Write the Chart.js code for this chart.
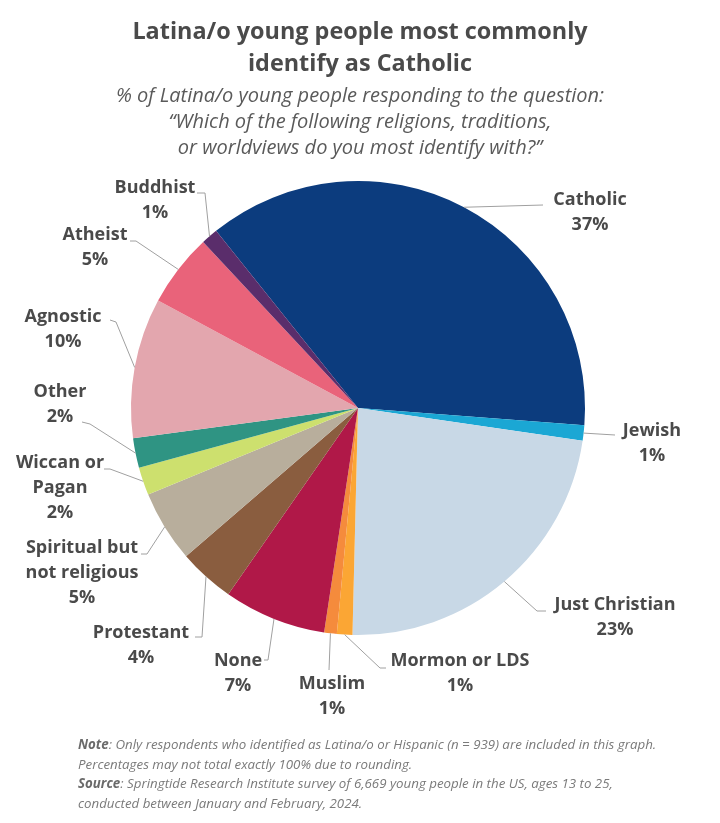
<!DOCTYPE html>
<html>
<head>
<meta charset="utf-8">
<script src="https://cdn.jsdelivr.net/npm/chart.js@4"></script>
<style>
  html, body { margin: 0; padding: 0; background: #fff; }
  #wrap { position: relative; width: 720px; height: 823px; overflow: hidden; font-family: "Open Sans", sans-serif; }
  #c { position: absolute; left: 0; top: 0; }
  .title { position: absolute; left: 0; width: 720px; top: 14px; text-align: center; font-weight: 700; font-size: 23.4px; line-height: 32px; color: #4a4a4a; }
  .sub { position: absolute; left: 0; width: 720px; top: 82px; text-align: center; font-style: italic; font-size: 20px; line-height: 26px; color: #5a5a5a; }
  .note { position: absolute; left: 78px; top: 735px; font-style: italic; font-size: 13.3px; line-height: 19.7px; color: #7a7a7a; }
  .note b { font-weight: 700; color: #6a6a6a; }
</style>
</head>
<body>
<div id="wrap">
  <canvas id="c" width="720" height="823"></canvas>
  <div class="title">Latina/o young people most commonly<br>identify as Catholic</div>
  <div class="sub">% of Latina/o young people responding to the question:<br>“Which of the following religions, traditions,<br>or worldviews do you most identify with?”</div>
  <div class="note"><b>Note</b>: Only respondents who identified as Latina/o or Hispanic (n = 939) are included in this graph.<br>Percentages may not total exactly 100% due to rounding.<br><b>Source</b>: Springtide Research Institute survey of 6,669 young people in the US, ages 13 to 25,<br>conducted between January and February, 2024.</div>
</div>
<script>
// ---- data ----
const categories = ["Catholic", "Jewish", "Just Christian", "Mormon or LDS", "Muslim", "None",
  "Protestant", "Spiritual but not religious", "Wiccan or Pagan", "Other", "Agnostic", "Atheist", "Buddhist"];
const labelLines = [["Catholic"], ["Jewish"], ["Just Christian"], ["Mormon or LDS"], ["Muslim"], ["None"],
  ["Protestant"], ["Spiritual but", "not religious"], ["Wiccan or", "Pagan"], ["Other"], ["Agnostic"], ["Atheist"], ["Buddhist"]];
const shares = [37.0, 1.1, 23.1, 1.1, 0.9, 7.3, 4.0, 5.1, 2.0, 2.1, 10.0, 5.2, 1.2];
const sliceColors = ["#0c3c7e", "#1ba7d4", "#c8d8e6", "#fba634", "#f58b3c", "#b01848",
  "#8a5d3f", "#b8ae9c", "#cde06e", "#2f9483", "#e3a6ae", "#e9637a", "#5a2d6b"];

// ---- label layout (text anchor: centre x, first-line centre y; leader elbows) ----
const labelPos = [
  {x: 590, y: 200, pts: [[543, 205]]},
  {x: 652, y: 431, pts: [[615, 435]]},
  {x: 615, y: 605, pts: [[537, 611], [546, 611]]},
  {x: 460, y: 661, pts: [[380, 668], [386, 668]]},
  {x: 332, y: 684, pts: [[329, 670]]},
  {x: 238, y: 661, pts: [[268, 660], [264, 660]]},
  {x: 141, y: 633, pts: [[202, 637], [195, 637]]},
  {x: 82,  y: 548, pts: [[147, 554], [141, 554]]},
  {x: 60,  y: 463, pts: [[110, 469], [104, 469]]},
  {x: 60,  y: 392, pts: [[90, 424], [82, 422]]},
  {x: 63,  y: 317, pts: [[116, 322], [110, 320]]},
  {x: 95,  y: 235, pts: [[136, 241], [130, 241]]},
  {x: 155, y: 188, pts: [[205, 193], [197, 193]]}
];

const labelPlugin = {
  id: 'pieLabels',
  afterDatasetsDraw(chart) {
    const ctx = chart.ctx;
    const meta = chart.getDatasetMeta(0);
    ctx.save();
    meta.data.forEach((arc, i) => {
      const p = arc.getProps(['x', 'y', 'startAngle', 'endAngle', 'outerRadius'], true);
      const mid = (p.startAngle + p.endAngle) / 2;
      const rx = p.x + Math.cos(mid) * p.outerRadius;
      const ry = p.y + Math.sin(mid) * p.outerRadius;
      const L = labelPos[i];
      ctx.beginPath();
      ctx.moveTo(rx, ry);
      L.pts.forEach(q => ctx.lineTo(q[0], q[1]));
      ctx.strokeStyle = '#a0a0a0';
      ctx.lineWidth = 1;
      ctx.stroke();
      const lines = labelLines[i].concat([Math.round(shares[i]) + '%']);
      ctx.fillStyle = '#4a4a4a';
      ctx.font = '700 18px "Open Sans"';
      ctx.textAlign = 'center';
      ctx.textBaseline = 'middle';
      lines.forEach((t, k) => ctx.fillText(t, L.x, L.y + k * 25));
    });
    ctx.restore();
  }
};

new Chart(document.getElementById('c'), {
  type: 'pie',
  data: {
    labels: categories,
    datasets: [{
      data: shares,
      backgroundColor: sliceColors,
      borderWidth: 0
    }]
  },
  options: {
    responsive: false,
    animation: false,
    rotation: -38.7,
    layout: { padding: { left: 131, right: 135, top: 181, bottom: 188 } },
    plugins: { legend: { display: false }, tooltip: { enabled: false }, title: { display: false } }
  },
  plugins: [labelPlugin]
});
</script>
</body>
</html>
